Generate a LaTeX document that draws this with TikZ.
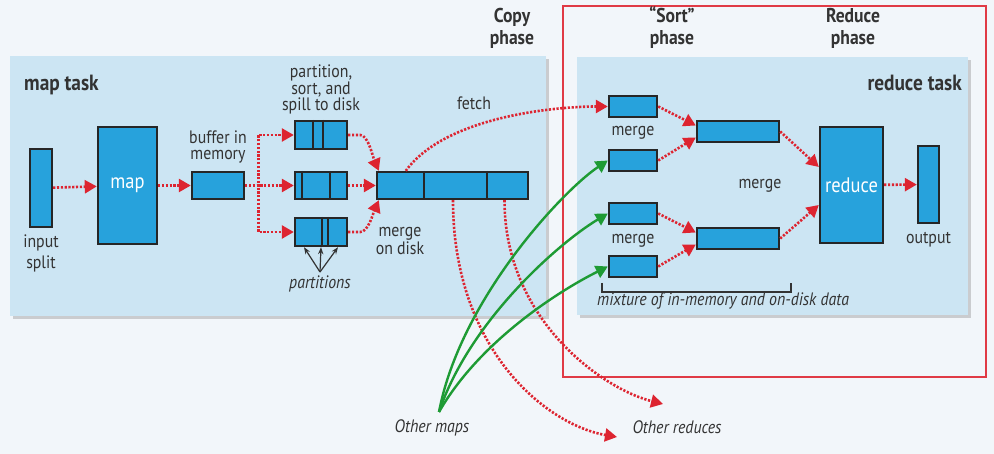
\documentclass[tikz,border=0pt]{standalone}
\usepackage{fontspec}
\setmainfont{PT Sans}[FakeStretch=0.88]
\usetikzlibrary{positioning,arrows.meta,calc,shadows}
\definecolor{bg}{HTML}{F2F6FA}
\definecolor{panelc}{HTML}{CCE5F3}
\definecolor{boxc}{HTML}{27A2DC}
\definecolor{redc}{HTML}{DD2430}
\definecolor{greenc}{HTML}{1E9B34}
\definecolor{txt}{HTML}{333333}

\begin{document}
\begin{tikzpicture}[x=1pt,y=-1pt,
  blk/.style={draw=black!85, line width=2.4pt, fill=boxc, inner sep=0pt, text=white, font=\fontsize{21}{22}\selectfont},
  panel/.style={fill=panelc, drop shadow={opacity=0.35, shadow xshift=3pt, shadow yshift=-3pt}},
  lb/.style={text=txt, font=\fontsize{18}{16.5}\selectfont, align=center, inner sep=0pt},
  ttl/.style={text=txt, font=\fontsize{20}{22}\selectfont\bfseries, align=center, inner sep=0pt},
  it/.style={lb, font=\fontsize{18}{16.5}\selectfont\itshape},
  rd/.style={draw=redc, line width=2.6pt, dash pattern=on 2.2pt off 1.6pt, -{Triangle[length=12pt,width=13pt]}},
  gr/.style={draw=greenc, line width=2.4pt, -{Triangle[length=12pt,width=13pt]}}]
% background, panels, frame
\fill[bg] (0,0) rectangle (994,454);
\fill[panel] (10,56) rectangle (546,316);
\fill[panel] (577,57) rectangle (968,315);
\draw[redc!90, line width=2.5pt] (563,6) rectangle (986,377);

% map side
\node[ttl, anchor=west] (maptask) at (24,85) {\fontsize{22}{22}\selectfont map task};
\node[blk, minimum width=22pt, minimum height=78pt] (split) at (41,188) {};
\node[lb, below=6pt of split] (splitlb) {input\\[5pt]split};
\node[blk, minimum width=59pt, minimum height=117pt] (map) at (127.5,185.5) {map};
\node[blk, minimum width=52pt, minimum height=27pt] (buf) at (218,185.5) {};
\node[lb, above=7pt of buf] (buflb) {buffer in\\memory};
\node[blk, minimum width=52pt, minimum height=28pt] (p1) at (321,135) {};
\node[blk, minimum width=52pt, minimum height=27pt] (p2) at (321,185.5) {};
\node[blk, minimum width=52pt, minimum height=28pt] (p3) at (321,232) {};
\node[lb, above=5pt of p1] (spilllb) {partition,\\sort, and\\spill to disk};
\node[it] (partlb) at (320,284) {partitions};
\node[blk, minimum width=151pt, minimum height=27pt] (disk) at (452.5,185.5) {};
\node[lb] (disklb) at (400,241) {merge\\on disk};
\node[lb] (fetchlb) at (474,103) {fetch};
\foreach \b/\x in {p1/313,p1/323,p2/302,p2/330,p3/322,p3/328,disk/424,disk/487}
  \draw[line width=2.2pt, black!85] (\x,0 |- \b.north) -- (\x,0 |- \b.south);

% phases
\node[ttl] (copyph) at (512,28) {Copy\\phase};
\node[ttl] (sortph) at (672,28) {“Sort”\\phase};
\node[ttl] (redph) at (853,28) {Reduce\\phase};

% reduce side
\node[ttl, anchor=east] (redtask) at (962,83) {\fontsize{22}{22}\selectfont reduce task};
\node[blk, minimum width=48pt, minimum height=21pt] (r1) at (633,106.5) {};
\node[blk, minimum width=48pt, minimum height=21pt] (r2) at (633,160.5) {};
\node[blk, minimum width=48pt, minimum height=21pt] (r3) at (633,213.5) {};
\node[blk, minimum width=48pt, minimum height=21pt] (r4) at (633,266.5) {};
\node[lb] (mg1) at (633,133) {merge};
\node[lb] (mg2) at (633,241) {merge};
\node[blk, minimum width=82pt, minimum height=21pt] (m1) at (738,131.5) {};
\node[blk, minimum width=82pt, minimum height=21pt] (m2) at (738,238.5) {};
\node[lb] (mg3) at (760,186) {merge};
\node[blk, minimum width=63pt, minimum height=116pt] (red) at (851.5,185) {reduce};
\node[blk, minimum width=21pt, minimum height=77pt] (out) at (928.5,184.5) {};
\node[lb, below=8pt of out] (outlb) {output};
\draw[line width=1.2pt, txt] (602,283) -- (602,292) -- (791,292) -- (791,283);
\node[it, anchor=west] (mixlb) at (597,301) {mixture of in-memory and on-disk data};

% outside
\node[it] (omaps) at (432,428) {Other maps};
\node[it] (oreds) at (677,427) {Other reduces};
\coordinate (om) at (439,412);
\coordinate (oa) at (617,437);
\coordinate (ob) at (663,404);
\coordinate (pc) at (320,272);

% connectors
\draw[rd] (split) -- (map);
\draw[rd] (map) -- (buf);
\draw[rd] (buf.east) -- ++(13,0) |- (p1.west);
\draw[rd] (buf.east) -- (p2.west);
\draw[rd] (buf.east) -- ++(13,0) |- (p3.west);
\foreach \x in {-17,0,17}
  \draw[-{Stealth[length=7pt]}, line width=1.2pt, txt] (pc) -- ([xshift=\x pt]p3.south);
\draw[rd] (p1.east) -- ++(12,0) .. controls +(8,0) and +(-6,-14) .. ([xshift=3pt]disk.north west);
\draw[rd] (p2) -- (disk);
\draw[rd] (p3.east) -- ++(12,0) .. controls +(8,0) and +(-6,14) .. ([xshift=3pt]disk.south west);
\draw[rd] ([xshift=30pt]disk.north west) .. controls +(40,-55) and +(-50,0) .. (r1.west);
\draw[rd] ([xshift=0.5pt]disk.south) .. controls +(0,150) and +(-70,-12) .. (oa);
\draw[rd] ([xshift=52pt]disk.south) .. controls +(0,120) and +(-60,-15) .. (ob);
\draw[gr] (om) .. controls +(21,-112) and +(-45,30) .. (r2.west);
\draw[gr] (om) .. controls +(30,-90) and +(-50,30) .. (r3.west);
\draw[gr] (om) .. controls +(40,-70) and +(-50,25) .. (r4.west);
\draw[rd] (r1.east) -- ([yshift=6pt]m1.west);
\draw[rd] (r2.east) -- ([yshift=-6pt]m1.west);
\draw[rd] (r3.east) -- ([yshift=6pt]m2.west);
\draw[rd] (r4.east) -- ([yshift=-6pt]m2.west);
\draw[rd] (m1.east) -- ([yshift=18pt]red.west);
\draw[rd] (m2.east) -- ([yshift=-20pt]red.west);
\draw[rd] (red) -- (out);
\end{tikzpicture}
\end{document}
